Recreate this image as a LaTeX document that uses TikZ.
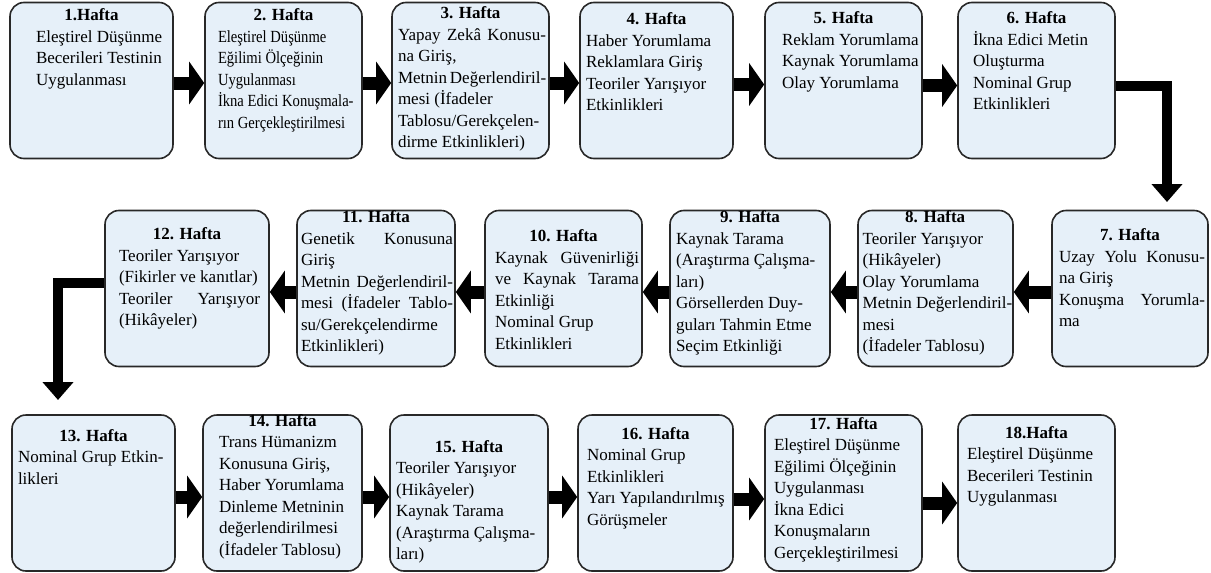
\documentclass[tikz,border=0pt]{standalone}
\usepackage{fontspec}
\setmainfont{Liberation Serif}
\newfontfamily\cond[FakeStretch=0.86]{Liberation Serif}
\usetikzlibrary{arrows.meta}
\definecolor{boxfill}{RGB}{230,240,249}
\definecolor{boxline}{RGB}{40,40,40}
\newlength\ins \newlength\tw
\newcommand\rl[1]{\hbox{\hskip\ins\relax #1}}
\newcommand\jl[1]{\hbox to\dimexpr\ins+\tw\relax{\hskip\ins\relax #1}}
\newcommand\wk[6]{\setlength\ins{#2pt}\setlength\tw{#3pt}%
\parbox[c][150pt][t]{\dimexpr#1pt-2pt\relax}{\fontsize{17}{21.5}\selectfont
\vspace*{\dimexpr#4pt-3pt\relax}%
\hbox to\hsize{\hfil\bfseries\smash{#5}\hfil}%
#6}}
\tikzset{
  wkbox/.style={draw=boxline, line width=1.6pt, fill=boxfill, rounded corners=14pt,
    inner sep=0pt, minimum height=156pt},
  harrow/.style={line width=13pt, draw=black, -{Triangle[length=15pt,width=42pt]}},
  varrow/.style={line width=10pt, draw=black, line join=miter, -{Triangle[length=18pt,width=30pt]}}
}
\begin{document}
\begin{tikzpicture}[x=1pt,y=-1pt]
\useasboundingbox[fill=white] (0,0) rectangle (1211,573);
% row 1
\node[wkbox, minimum width=163pt] (b1) at (91.5,80.5) {\wk{163}{25}{130}{18}{1.Hafta}{%
\rl{Eleştirel Düşünme}\rl{Becerileri Testinin}\rl{Uygulanması}}};
\node[wkbox, minimum width=157pt] (b2) at (283.5,80.5) {\wk{157}{12}{138}{18}{2. Hafta}{\cond
\rl{Eleştirel Düşünme}\rl{Eğilimi Ölçeğinin}\rl{Uygulanması}\rl{İkna Edici Konuşmala-}\rl{rın Gerçekleştirilmesi}}};
\node[wkbox, minimum width=157pt] (b3) at (470.5,80.5) {\wk{157}{5}{148}{16}{3. Hafta}{%
\jl{Yapay Zekâ Konusu-}\rl{na Giriş,}\jl{Metnin Değerlendiril-}\rl{mesi (İfadeler}\jl{Tablosu/Gerekçelen-}\rl{dirme Etkinlikleri)}}};
\node[wkbox, minimum width=153pt] (b4) at (656.5,80.5) {\wk{153}{5}{140}{22}{4. Hafta}{%
\rl{Haber Yorumlama}\rl{Reklamlara Giriş}\rl{Teoriler Yarışıyor}\rl{Etkinlikleri}}};
\node[wkbox, minimum width=157pt] (b5) at (843.5,80.5) {\wk{157}{16}{135}{21}{5. Hafta}{%
\rl{Reklam Yorumlama}\rl{Kaynak Yorumlama}\rl{Olay Yorumlama}}};
\node[wkbox, minimum width=157pt] (b6) at (1036.5,80.5) {\wk{157}{14}{135}{21}{6. Hafta}{%
\rl{İkna Edici Metin}\rl{Oluşturma}\rl{Nominal Grup}\rl{Etkinlikleri}}};
% row 2
\node[wkbox, minimum width=156pt] (b7) at (1130,288.5) {\wk{156}{6}{146}{30}{7. Hafta}{%
\jl{Uzay Yolu Konusu-}\rl{na Giriş}\jl{Konuşma Yorumla-}\rl{ma}}};
\node[wkbox, minimum width=155pt] (b8) at (935.5,288.5) {\wk{155}{4}{148}{12}{8. Hafta}{%
\rl{Teoriler Yarışıyor}\rl{(Hikâyeler)}\rl{Olay Yorumlama}\rl{Metnin Değerlendiril-}\rl{mesi}\rl{(İfadeler Tablosu)}}};
\node[wkbox, minimum width=160pt] (b9) at (750,288.5) {\wk{160}{5}{150}{12}{9. Hafta}{%
\rl{Kaynak Tarama}\rl{(Araştırma Çalışma-}\rl{ları)}\rl{Görsellerden Duy-}\rl{guları Tahmin Etme}\rl{Seçim Etkinliği}}};
\node[wkbox, minimum width=157pt] (b10) at (563.5,288.5) {\wk{157}{9}{144}{31}{10. Hafta}{%
\jl{Kaynak Güvenirliği}\jl{ve Kaynak Tarama}\rl{Etkinliği}\rl{Nominal Grup}\rl{Etkinlikleri}}};
\node[wkbox, minimum width=158pt] (b11) at (376,288.5) {\wk{158}{3}{152}{12}{11. Hafta}{%
\jl{Genetik Konusuna}\rl{Giriş}\jl{Metnin Değerlendiril-}\jl{mesi (İfadeler Tablo-}\rl{su/Gerekçelendirme}\rl{Etkinlikleri)}}};
\node[wkbox, minimum width=164pt] (b12) at (187,288.5) {\wk{164}{13}{141}{29}{12. Hafta}{%
\rl{Teoriler Yarışıyor}\rl{(Fikirler ve kanıtlar)}\jl{Teoriler Yarışıyor}\rl{(Hikâyeler)}}};
% row 3
\node[wkbox, minimum width=163pt] (b13) at (93.5,493) {\wk{163}{5}{150}{26}{13. Hafta}{%
\rl{Nominal Grup Etkin-}\rl{likleri}}};
\node[wkbox, minimum width=159pt] (b14) at (282.5,493) {\wk{159}{15}{138}{11}{14. Hafta}{%
\rl{Trans Hümanizm}\rl{Konusuna Giriş,}\rl{Haber Yorumlama}\rl{Dinleme Metninin}\rl{değerlendirilmesi}\rl{(İfadeler Tablosu)}}};
\node[wkbox, minimum width=158pt] (b15) at (469,493) {\wk{158}{5}{150}{37}{15. Hafta}{%
\rl{Teoriler Yarışıyor}\rl{(Hikâyeler)}\rl{Kaynak Tarama}\rl{(Araştırma Çalışma-}\rl{ları)}}};
\node[wkbox, minimum width=155pt] (b16) at (655.5,493) {\wk{155}{8}{145}{24}{16. Hafta}{%
\rl{Nominal Grup}\rl{Etkinlikleri}\rl{Yarı Yapılandırılmış}\rl{Görüşmeler}}};
\node[wkbox, minimum width=157pt] (b17) at (843.5,493) {\wk{157}{8}{145}{14}{17. Hafta}{%
\rl{Eleştirel Düşünme}\rl{Eğilimi Ölçeğinin}\rl{Uygulanması}\rl{İkna Edici}\rl{Konuşmaların}\rl{Gerçekleştirilmesi}}};
\node[wkbox, minimum width=157pt] (b18) at (1036.5,493) {\wk{157}{8}{145}{23}{18.Hafta}{%
\rl{Eleştirel Düşünme}\rl{Becerileri Testinin}\rl{Uygulanması}}};
% connectors
\coordinate (t7) at (1167,202);
\coordinate (t13) at (58,400);
\draw[harrow] ([yshift=-2.5pt]b1.east) -- ([yshift=-2.5pt]b2.west);
\draw[harrow] ([yshift=-2.5pt]b2.east) -- ([yshift=-2.5pt]b3.west);
\draw[harrow] ([yshift=-2.5pt]b3.east) -- ([yshift=-2.5pt]b4.west);
\draw[harrow] ([yshift=-4pt]b4.east) -- ([yshift=-4pt]b5.west);
\draw[harrow] ([yshift=-5pt]b5.east) -- ([yshift=-5pt]b6.west);
\draw[varrow] ([yshift=-5.5pt]b6.east) -| (t7);
\draw[harrow] ([yshift=-3.5pt]b7.west) -- ([yshift=-3.5pt]b8.east);
\draw[harrow] ([yshift=-3.5pt]b8.west) -- ([yshift=-3.5pt]b9.east);
\draw[harrow] ([yshift=-3.5pt]b9.west) -- ([yshift=-3.5pt]b10.east);
\draw[harrow] ([yshift=-3.5pt]b10.west) -- ([yshift=-3.5pt]b11.east);
\draw[harrow] ([yshift=-3.5pt]b11.west) -- ([yshift=-3.5pt]b12.east);
\draw[varrow] ([yshift=5.5pt]b12.west) -| (t13);
\draw[harrow] ([yshift=-4pt]b13.east) -- ([yshift=-4pt]b14.west);
\draw[harrow] ([yshift=-4pt]b14.east) -- ([yshift=-4pt]b15.west);
\draw[harrow] ([yshift=-4pt]b15.east) -- ([yshift=-4pt]b16.west);
\draw[harrow] ([yshift=-6pt]b16.east) -- ([yshift=-6pt]b17.west);
\draw[harrow] ([yshift=-10pt]b17.east) -- ([yshift=-10pt]b18.west);
\end{tikzpicture}
\end{document}
